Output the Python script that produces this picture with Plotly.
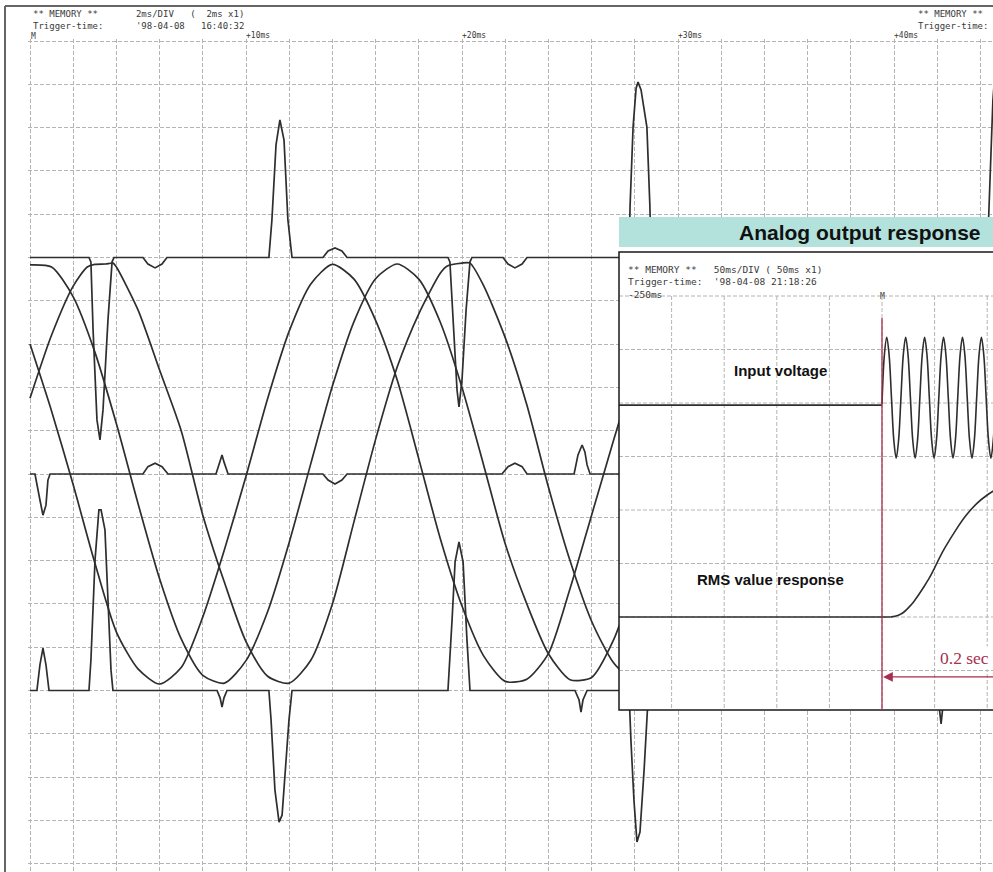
import plotly.graph_objects as go

# ---------------- Main recorder chart (2 ms/DIV, values in divisions) ----------------
T_MS = [0, 1, 2, 3, 4, 5, 6, 7, 8, 9, 10, 11, 12, 13, 14, 15, 16, 17, 18, 19, 20,
        21, 22, 23, 24, 25, 26, 27, 28]
PHASE_1 = [3.0, 1.45, -0.25, -2.05, -3.65, -4.5, -4.85, -4.47, -3.3, -1.75, -0.05,
           1.74, 3.3, 4.39, 4.84, 4.5, 3.55, 2.17, 0.35, -1.5, -3.05, -4.2, -4.79,
           -4.74, -4.15, -2.65, -0.95, 0.75, 2.4]
PHASE_2 = [4.83, 4.78, 4.09, 2.82, 1.16, -0.68, -2.42, -3.81, -4.65, -4.83, -4.31,
           -3.18, -1.58, 0.24, 2.03, 3.52, 4.51, 4.85, 4.5, 3.5, 2.0, 0.21, -1.61,
           -3.0, -4.15, -4.75, -4.7, -3.85, -2.44]
T_MS_3 = [0, 1, 2, 2.65, 3, 3.5, 3.85, 4, 5, 6, 7, 8, 9, 10, 11, 12, 13, 14, 15, 16,
          17, 18, 19, 19.3, 20, 20.37, 21, 22, 23, 24, 25, 26, 27, 28]
PHASE_3 = [1.75, 3.21, 4.34, 4.78, 4.84, 4.85, 4.87, 4.78, 3.79, 2.4, 1.0, -0.95,
           -2.5, -3.87, -4.67, -4.83, -4.3, -3.0, -1.1, 0.8, 2.47, 3.7, 4.64, 4.8,
           4.87, 4.87, 4.35, 3.15, 1.6, -0.3, -2.0, -3.4, -4.35, -4.85]

# current waveform on the upper channel (baseline +5 div)
CUR_TOP_T = [0, 2.73, 2.82, 2.92, 3.10, 3.24, 3.38, 3.61, 3.80, 3.89, 5.23, 5.46, 5.79,
             6.11, 6.34, 11.06, 11.20, 11.39, 11.57, 11.76, 11.94, 12.13, 13.56, 13.80,
             14.12, 14.44, 14.68, 19.35, 19.44, 19.54, 19.77, 19.86, 20.0, 20.19, 20.37,
             20.46, 21.90, 22.13, 22.45, 22.78, 23.01, 27.73, 27.78, 27.92, 28.06, 28.15,
             28.29, 28.56, 28.70, 28.75, 44.31, 44.40, 44.58, 44.72]
CUR_TOP_V = [5.0, 5.0, 4.9, 3.33, 1.25, 0.79, 1.48, 3.56, 4.9, 5.0, 5.0, 4.85, 4.76,
             4.85, 5.0, 5.0, 5.87, 7.6, 8.18, 7.71, 5.87, 5.0, 5.0, 5.15, 5.22, 5.15,
             5.0, 5.0, 4.9, 4.02, 1.94, 1.55, 2.17, 3.79, 4.9, 5.0, 5.0, 4.85, 4.76,
             4.85, 5.0, 5.0, 6.17, 8.01, 8.91, 9.05, 8.87, 8.01, 6.17, 5.0, 5.0, 6.17,
             8.64, 9.56]

# current waveform on the middle channel (baseline 0 div)
CUR_MID_T = [0, 0.23, 0.46, 0.60, 0.74, 0.83, 0.93, 5.23, 5.46, 5.79, 6.11, 6.39, 8.61,
             8.80, 8.89, 8.98, 9.17, 13.56, 13.80, 14.12, 14.44, 14.68, 21.85, 22.13,
             22.45, 22.78, 23.01, 25.19, 25.37, 25.56, 25.69, 25.79, 25.93, 28.7]
CUR_MID_V = [0, 0, -0.6, -0.95, -0.72, -0.14, 0, 0, 0.17, 0.25, 0.17, 0, 0, 0.28, 0.44,
             0.28, 0, 0, -0.14, -0.23, -0.14, 0, 0, 0.17, 0.25, 0.17, 0, 0, 0.44, 0.67,
             0.51, 0.21, 0, 0]

# current waveform on the lower channel (baseline -5 div)
CUR_BOT_T = [0, 0.32, 0.46, 0.60, 0.74, 0.88, 2.73, 2.82, 3.01, 3.19, 3.29, 3.47, 3.61,
             3.75, 3.84, 8.66, 8.80, 8.89, 8.98, 9.12, 11.06, 11.16, 11.34, 11.53, 11.67,
             11.81, 11.99, 12.13, 19.35, 19.54, 19.68, 19.86, 20.05, 20.23, 20.37, 25.23,
             25.42, 25.51, 25.60, 25.79, 27.73, 27.82, 27.96, 28.10, 28.24, 28.43, 28.61,
             28.70, 41.94, 42.08, 42.18, 42.27, 42.41, 44.7]
CUR_BOT_V = [-5, -5, -4.41, -4.02, -4.41, -5, -5, -4.3, -1.99, -0.83, -0.83, -1.29, -2.91,
             -4.53, -5, -5, -5.17, -5.38, -5.17, -5, -5, -5.68, -7.3, -8.04, -7.88, -6.84,
             -5.68, -5, -5, -3.37, -2.03, -1.57, -2.03, -3.83, -5, -5, -5.22, -5.5, -5.22,
             -5, -5, -6.14, -7.53, -8.5, -8.27, -6.84, -5.22, -5, -5, -5.33, -5.77, -5.33,
             -5, -5]

MAIN_TIME_LABELS = ["+10ms", "+20ms", "+30ms", "+40ms"]
MAIN_TIME_LABEL_MS = [10, 20, 30, 40]

# ---------------- Inset: analog output response (50 ms/DIV) ----------------
INPUT_LEVEL_BEFORE = 3.96          # flat input before the trigger (-250 ms .. 0 ms)
INPUT_T = [0, 2.25, 4.5, 6.75, 9, 11.25, 13.5, 15.75, 18, 20.25, 22.5, 24.75, 27,
           29.25, 31.5, 33.75, 36, 38.25, 40.5, 42.75, 45, 47.25, 49.5, 51.75, 54, 56.25,
           58.5, 60.75, 63, 65.25, 67.5, 69.75, 72, 74.25, 76.5, 78.75, 81, 83.25, 85.5,
           87.75, 90, 92.25, 94.5, 96.75, 99, 101.25, 103.5, 105.75, 108]
INPUT_V = [3.98,
           4.9, 5.23, 4.9, 4.1, 3.3, 2.97, 3.3, 4.1,
           4.9, 5.23, 4.9, 4.1, 3.3, 2.97, 3.3, 4.1,
           4.9, 5.23, 4.9, 4.1, 3.3, 2.97, 3.3, 4.1,
           4.9, 5.23, 4.9, 4.1, 3.3, 2.97, 3.3, 4.1,
           4.9, 5.23, 4.9, 4.1, 3.3, 2.97, 3.3, 4.1,
           4.9, 5.23, 4.9, 4.1, 3.3, 2.97, 3.3, 4.1]
RMS_LEVEL_BEFORE = 0.0
RMS_T = [8, 15, 20, 25, 30, 35, 40, 45, 50, 55, 60, 70, 80, 90, 100, 108]
RMS_V = [0.0, 0.03, 0.08, 0.17, 0.28, 0.42, 0.57, 0.73, 0.92, 1.12, 1.3, 1.62,
         1.9, 2.12, 2.28, 2.38]

INSET_GRID_T = [-200, -150, -100, -50, 0, 50, 100]
INSET_GRID_DIV = [6, 5, 4, 3, 2, 1, 0, -1]

W, H = 993, 872
INK = "#2e2e2e"
GRID = "#b4b4b4"
RED = "#a92d4d"


def px(x):
    return x / W


def py(y):
    return 1 - y / H


fig = go.Figure()

# main waveforms
for tt, vv in [(T_MS, PHASE_1), (T_MS, PHASE_2), (T_MS_3, PHASE_3)]:
    fig.add_trace(go.Scatter(x=tt, y=vv, mode="lines",
                             line=dict(color=INK, width=1.7, shape="spline", smoothing=0.7),
                             hoverinfo="skip"))
for tt, vv in [(CUR_TOP_T, CUR_TOP_V), (CUR_MID_T, CUR_MID_V), (CUR_BOT_T, CUR_BOT_V)]:
    fig.add_trace(go.Scatter(x=tt, y=vv, mode="lines",
                             line=dict(color=INK, width=1.7), hoverinfo="skip"))

# inset grid (dot-matrix dashed lines)
inset_bottom = -1.74
gx, gy = [], []
for v in INSET_GRID_T:
    gx += [v, v, None]
    gy += [INSET_GRID_DIV[0], inset_bottom, None]
for v in INSET_GRID_DIV:
    gx += [-250, 110, None]
    gy += [v, v, None]
fig.add_trace(go.Scatter(x=gx, y=gy, mode="lines", xaxis="x2", yaxis="y2",
                         line=dict(color=GRID, width=1, dash="4px,2px"), hoverinfo="skip"))

# inset waveforms: flat part before the trigger + response after it
fig.add_trace(go.Scatter(x=[-250, INPUT_T[0]], y=[INPUT_LEVEL_BEFORE, INPUT_LEVEL_BEFORE],
                         mode="lines", xaxis="x2", yaxis="y2",
                         line=dict(color=INK, width=1.6), hoverinfo="skip"))
fig.add_trace(go.Scatter(x=INPUT_T, y=INPUT_V, mode="lines", xaxis="x2", yaxis="y2",
                         line=dict(color=INK, width=1.6, shape="spline", smoothing=1.0),
                         hoverinfo="skip"))
fig.add_trace(go.Scatter(x=[-250, RMS_T[0]], y=[RMS_LEVEL_BEFORE, RMS_LEVEL_BEFORE],
                         mode="lines", xaxis="x2", yaxis="y2",
                         line=dict(color=INK, width=1.6), hoverinfo="skip"))
fig.add_trace(go.Scatter(x=RMS_T, y=RMS_V, mode="lines", xaxis="x2", yaxis="y2",
                         line=dict(color=INK, width=1.6, shape="spline", smoothing=0.8),
                         hoverinfo="skip"))

axis_common = dict(showticklabels=False, ticks="", zeroline=False, showline=False,
                   fixedrange=True)
fig.update_layout(
    width=W, height=H, margin=dict(l=0, r=0, t=0, b=0),
    paper_bgcolor="white", plot_bgcolor="white", showlegend=False,
    xaxis=dict(domain=[px(28), 1], range=[(28 - 30) / 21.6, (W - 30) / 21.6],
               tick0=0, dtick=2, showgrid=True, gridcolor=GRID, gridwidth=1,
               griddash="4px,2px", **axis_common),
    yaxis=dict(domain=[0, py(39)], range=[(474 - H) / 43.3, (474 - 39) / 43.3],
               tick0=0, dtick=1, showgrid=True, gridcolor=GRID, gridwidth=1,
               griddash="4px,2px", **axis_common),
    xaxis2=dict(domain=[px(619), 1], range=[-250, -250 + (W - 619) / 1.052],
                anchor="y2", showgrid=False, **axis_common),
    yaxis2=dict(domain=[py(710), py(217)], range=[(617 - 710) / 53.5, (617 - 217) / 53.5],
                anchor="x2", showgrid=False, **axis_common),
)

shapes = [
    # outer frame of the recorder sheet
    dict(type="line", xref="paper", yref="paper", x0=px(5), x1=1.01, y0=py(6), y1=py(6),
         line=dict(color="#666", width=2)),
    dict(type="line", xref="paper", yref="paper", x0=px(5), x1=px(5), y0=py(6), y1=-0.01,
         line=dict(color="#666", width=2)),
    # inset title band
    dict(type="rect", xref="paper", yref="paper", x0=px(619), x1=1.01, y0=py(247), y1=py(217),
         fillcolor="#b3e2dc", line=dict(width=0), layer="above"),
    # inset frame
    dict(type="rect", xref="paper", yref="paper", x0=px(619), x1=1.01, y0=py(710), y1=py(252),
         line=dict(color="#1a1a1a", width=1.5), layer="above"),
    # trigger marker line
    dict(type="line", xref="x2", yref="y2", x0=0, x1=0, y0=5.59, y1=-1.8,
         line=dict(color=RED, width=1.3), layer="above"),
]
fig.update_layout(shapes=shapes)

mono = "DejaVu Sans Mono"
ann = []


def text(x, y, s, size, color="#3a3a3a", family=mono, xanchor="left", **kw):
    ann.append(dict(x=px(x), y=py(y), xref="paper", yref="paper", text=s, showarrow=False,
                    xanchor=xanchor, yanchor="middle", align="left",
                    font=dict(family=family, size=size, color=color), **kw))


# recorder header blocks (dot-matrix print)
text(31, 20.5, "** MEMORY **       2ms/DIV   (  2ms x1)<br>"
               "Trigger-time:      '98-04-08   16:40:32", 9)
text(916, 20.5, "** MEMORY **<br>Trigger-time:", 9)
text(29, 36.5, "M", 8)
for lab, ms in zip(MAIN_TIME_LABELS, MAIN_TIME_LABEL_MS):
    text(28 + ms * 21.6, 35.5, lab, 8)

text(626, 282, "** MEMORY **   50ms/DIV ( 50ms x1)<br>"
               "Trigger-time:  '98-04-08 21:18:26<br>"
               "-250ms", 9.5)
text(878, 297, "M", 8)

text(737, 233, "<b>Analog output response</b>", 21, color="#111", family="Liberation Sans")
text(780, 370, "<b>Input voltage</b>", 15, color="#111", family="Liberation Sans",
     xanchor="center")
text(770, 579, "<b>RMS value response</b>", 15, color="#111", family="Liberation Sans",
     xanchor="center")
text(938, 658, "0.2 sec", 17.5, color=RED, family="Liberation Serif", bgcolor="white",
     borderpad=1)

ann.append(dict(x=1.0, y=-1.12, xref="x2", yref="y2", ax=112, ay=-1.12, axref="x2",
                ayref="y2", text="", showarrow=True, arrowhead=2, arrowsize=1.5,
                arrowwidth=1.3, arrowcolor=RED, standoff=0))
fig.update_layout(annotations=ann)

fig.write_html("out.html", config={"displayModeBar": False},
               post_script="document.body.style.margin='0';document.body.style.overflow='hidden';")
